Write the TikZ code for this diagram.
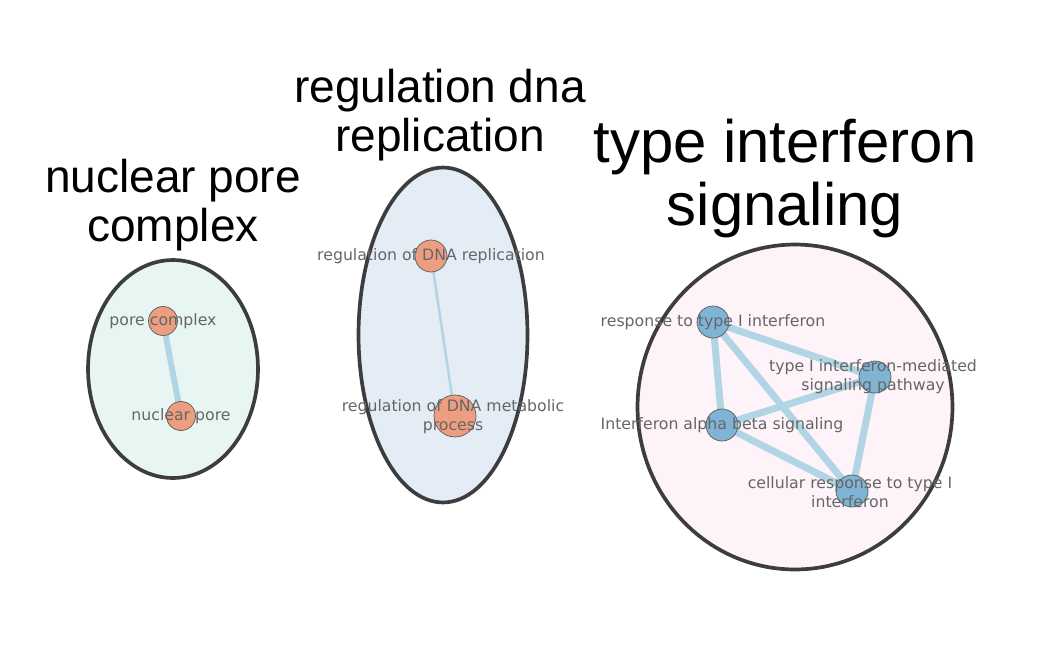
\documentclass[tikz,border=0pt]{standalone}
\usepackage{fontspec}
\setmainfont{Liberation Sans}
\newfontfamily\termfont{DejaVu Sans}
\usetikzlibrary{positioning,shapes.geometric}
\definecolor{clusterline}{HTML}{3D3D3D}
\definecolor{mintfill}{HTML}{E8F6F3}
\definecolor{dnafill}{HTML}{E4EDF6}
\definecolor{pinkfill}{HTML}{FDF3F8}
\definecolor{salmon}{HTML}{EE9E80}
\definecolor{steel}{HTML}{7FB4D4}
\definecolor{termline}{HTML}{5A5A5A}
\definecolor{edgeblue}{HTML}{B2D5E6}
\definecolor{labelgrey}{HTML}{666666}
\pgfdeclarelayer{clusterlayer}
\pgfdeclarelayer{linklayer}
\pgfsetlayers{clusterlayer,linklayer,main}
\tikzset{
  cluster/.style={shape=ellipse, draw=clusterline, line width=2.1pt, inner sep=0},
  term/.style={circle, draw=termline, line width=0.4pt, inner sep=0, minimum size=0.64cm},
  termtext/.style={font=\termfont\fontsize{8.95pt}{10.8pt}\selectfont, text=labelgrey, align=center, inner sep=0},
  clustertitle/.style={font=\fontsize{26.2pt}{28pt}\selectfont, align=center, inner sep=0, anchor=south},
  link/.style={draw=edgeblue, line cap=round}
}
\begin{document}
\begin{tikzpicture}[x=0.02cm, y=-0.02cm]
\useasboundingbox (0,0) rectangle (1064,646);
%%% Start clusters
\begin{pgfonlayer}{clusterlayer}
  \node[cluster, fill=mintfill, minimum width=3.40cm, minimum height=4.36cm] (npc) at (173,369) {};
  \node[cluster, fill=dnafill, minimum width=3.38cm, minimum height=6.70cm] (dna) at (443,335) {};
  \node[cluster, fill=pinkfill, minimum width=6.30cm, minimum height=6.50cm] (ifn) at (795,407) {};
\end{pgfonlayer}
\node[clustertitle, above=0.14cm of npc] (npc-title) {nuclear pore\\complex};
\node[clustertitle, above=0.08cm of dna, xshift=-0.06cm] (dna-title) {regulation dna\\replication};
\node[clustertitle, above=0.08cm of ifn, xshift=-0.2cm, font=\fontsize{34.1pt}{36pt}\selectfont] (ifn-title) {type interferon\\signaling};
%%% End clusters
%%% Start terms
\node[term, fill=salmon, minimum size=0.58cm] (pc) at (163,321) {};
\node[term, fill=salmon, minimum size=0.58cm] (np) at (181,416) {};
\node[term, fill=salmon] (rdr) at (431,256) {};
\node[term, fill=salmon, minimum size=0.84cm] (rdm) at (455,416) {};
\node[term, fill=steel] (rti) at (713,322) {};
\node[term, fill=steel] (tim) at (875,377) {};
\node[term, fill=steel] (iab) at (722,425) {};
\node[term, fill=steel] (crt) at (852,491) {};
%%% End terms
%%% Start links
\begin{pgfonlayer}{linklayer}
  \draw[link, line width=0.12cm] (pc.center) -- (np.center);
  \draw[link, line width=0.05cm] (rdr.center) -- (rdm.center);
  \draw[link, line width=0.14cm] (rti.center) -- (tim.center);
  \draw[link, line width=0.14cm] (rti.center) -- (iab.center);
  \draw[link, line width=0.14cm] (rti.center) -- (crt.center);
  \draw[link, line width=0.14cm] (iab.center) -- (tim.center);
  \draw[link, line width=0.14cm] (iab.center) -- (crt.center);
  \draw[link, line width=0.14cm] (tim.center) -- (crt.center);
\end{pgfonlayer}
%%% End links
%%% Start term labels
\node[termtext] (pc-text) at (pc.center) {pore complex};
\node[termtext] (np-text) at (np.center) {nuclear pore};
\node[termtext] (rdr-text) at (rdr.center) {regulation of DNA replication};
\node[termtext] (rdm-text) at (453,417) {regulation of DNA metabolic\\process};
\node[termtext] (rti-text) at (rti.center) {response to type I interferon};
\node[termtext] (tim-text) at (873,377) {type I interferon-mediated\\signaling pathway};
\node[termtext] (iab-text) at (iab.center) {Interferon alpha beta signaling};
\node[termtext] (crt-text) at (850,492) {cellular response to type I\\interferon};
%%% End term labels
\end{tikzpicture}
\end{document}
